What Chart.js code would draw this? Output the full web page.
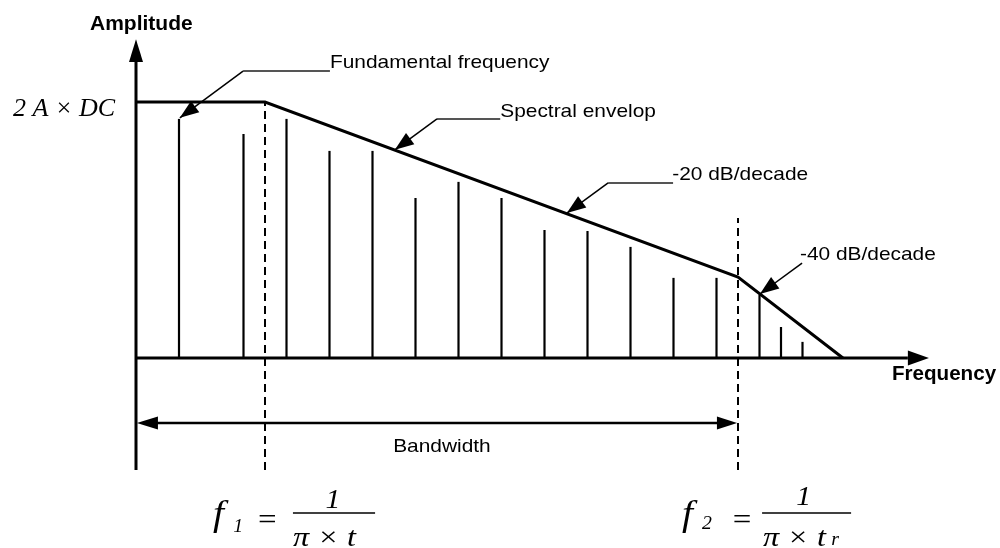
<!DOCTYPE html>
<html><head><meta charset="utf-8">
<script src="https://cdn.jsdelivr.net/npm/chart.js@4"></script>
<style>html,body{margin:0;padding:0;background:#fff}#wrap{width:1000px;height:548px;position:relative}</style>
</head><body><div id="wrap"><canvas id="c"></canvas></div>
<script>
// ---- data (arbitrary frequency / amplitude units) ----
const harmonicFreqs = [1.0, 2.5, 3.5, 4.5, 5.5, 6.5, 7.5, 8.5, 9.5, 10.5, 11.5, 12.5, 13.5, 14.5, 15.0, 15.5];
const harmonicAmps  = [9.34, 8.75, 9.34, 8.09, 8.09, 6.25, 6.88, 6.25, 5.0, 4.96, 4.34, 3.13, 3.13, 2.46, 1.21, 0.63];
const envelopeFreqs = [0, 3.0, 14.0, 16.44];
const envelopeAmps  = [10, 10, 3.16, 0];
const f1 = 3.0;
const f2 = 14.0;
const textLabels = ['Amplitude', 'Frequency', '2 A × DC', 'Fundamental frequency', 'Spectral envelop', '-20 dB/decade', '-40 dB/decade', 'Bandwidth'];

// ---- layout (data units) ----
const axisX = {from: 0, to: 17.95, tip: 18.44};
const axisY = {from: -4.375, to: 11.56, tip: 12.45};
const bandY = -2.54;
const dash1Top = 10, dash2Top = 5.47, dashBottom = -4.375;

const SANS = '"Liberation Sans", Arial, sans-serif';
const SERIF = '"Liberation Serif", "Times New Roman", serif';

const leaders = [
  {h: [2.49, 4.51, 11.21], from: [2.49, 11.21], tip: [1.02, 9.38]},
  {h: [7.0, 8.47, 9.34], from: [7.0, 9.34], tip: [6.02, 8.13]},
  {h: [10.98, 12.49, 6.84], from: [10.98, 6.84], tip: [10.02, 5.66]},
  {h: null, from: [15.49, 3.71], tip: [14.51, 2.5]}
];

const texts = [
  {t: textLabels[0], x: -1.07, y: 12.81, font: 'bold 20px ' + SANS, sx: 1.05},
  {t: textLabels[1], x: 17.58, y: -0.86, font: 'bold 20px ' + SANS, sx: 1.03},
  {t: textLabels[2], x: -2.86, y: 9.45, font: 'italic 26px ' + SERIF, sx: 1},
  {t: textLabels[3], x: 4.51, y: 11.33, font: '19px ' + SANS, sx: 1.1},
  {t: textLabels[4], x: 8.47, y: 9.41, font: '19px ' + SANS, sx: 1.1},
  {t: textLabels[5], x: 12.47, y: 6.95, font: '19px ' + SANS, sx: 1.1},
  {t: textLabels[6], x: 15.44, y: 3.83, font: '19px ' + SANS, sx: 1.1},
  {t: textLabels[7], x: 5.98, y: -3.67, font: '19px ' + SANS, sx: 1.1},
  // f1 formula
  {t: 'f', x: 1.79, y: -6.52, font: 'italic 36px ' + SERIF, sx: 1.1},
  {t: '1', x: 2.26, y: -6.80, font: 'italic 18px ' + SERIF, sx: 1.1},
  {t: '=', x: 2.84, y: -6.68, font: '30px ' + SERIF, sx: 1.1},
  {t: '1', x: 4.58, y: -5.86, font: 'italic 27px ' + SERIF, sx: 1.1, align: 'center'},
  {t: 'π × t', x: 3.65, y: -7.34, font: 'italic 28px ' + SERIF, sx: 1.15},
  // f2 formula
  {t: 'f', x: 12.70, y: -6.52, font: 'italic 36px ' + SERIF, sx: 1.1},
  {t: '2', x: 13.16, y: -6.68, font: 'italic 18px ' + SERIF, sx: 1.1},
  {t: '=', x: 13.88, y: -6.68, font: '30px ' + SERIF, sx: 1.1},
  {t: '1', x: 15.53, y: -5.74, font: 'italic 27px ' + SERIF, sx: 1.1, align: 'center'},
  {t: 'π × t', x: 14.58, y: -7.34, font: 'italic 28px ' + SERIF, sx: 1.15},
  {t: 'r', x: 16.17, y: -7.30, font: 'italic 18px ' + SERIF, sx: 1.1}
];
const fractions = [[3.65, 5.56, -6.05], [14.56, 16.63, -6.05]];

const arrows = [
  {tip: [axisX.tip, 0], base: [axisX.to, 0], hw: 7.5},
  {tip: [0, axisY.tip], base: [0, axisY.to], hw: 7},
  {tip: [0.02, bandY], base: [0.51, bandY], hw: 6.5},
  {tip: [13.98, bandY], base: [13.51, bandY], hw: 6.5}
];

// ---- datasets ----
const line = (pts, extra) => Object.assign({type: 'line', data: pts, showLine: true, pointRadius: 0,
  borderColor: '#000', borderWidth: 2, fill: false, tension: 0, clip: false}, extra || {});

const datasets = [];
harmonicFreqs.forEach((f, i) => datasets.push(line([{x: f, y: 0}, {x: f, y: harmonicAmps[i]}], {borderWidth: 2.2})));
datasets.push(line(envelopeFreqs.map((f, i) => ({x: f, y: envelopeAmps[i]})), {borderWidth: 3}));
datasets.push(line([{x: axisX.from, y: 0}, {x: axisX.to, y: 0}], {borderWidth: 3}));
datasets.push(line([{x: 0, y: axisY.from}, {x: 0, y: axisY.to}], {borderWidth: 3}));
datasets.push(line([{x: f1, y: dashBottom}, {x: f1, y: dash1Top}], {borderWidth: 2, borderDash: [8, 5]}));
datasets.push(line([{x: f2, y: dashBottom}, {x: f2, y: dash2Top}], {borderWidth: 2, borderDash: [8, 5]}));
datasets.push(line([{x: 0.4, y: bandY}, {x: 13.6, y: bandY}], {borderWidth: 2.5}));

const decor = {
  id: 'decor',
  afterDatasetsDraw(chart) {
    const ctx = chart.ctx, xs = chart.scales.x, ys = chart.scales.y;
    const P = (x, y) => [xs.getPixelForValue(x), ys.getPixelForValue(y)];
    ctx.save();
    leaders.forEach(l => {
      if (l.h) {
        const a = P(l.h[0], l.h[2]), b = P(l.h[1], l.h[2]);
        ctx.strokeStyle = '#555'; ctx.lineWidth = 2;
        ctx.beginPath(); ctx.moveTo(a[0], a[1]); ctx.lineTo(b[0], b[1]); ctx.stroke();
      }
      const s = P(l.from[0], l.from[1]), t = P(l.tip[0], l.tip[1]);
      ctx.strokeStyle = '#000'; ctx.lineWidth = 1.5;
      ctx.beginPath(); ctx.moveTo(s[0], s[1]); ctx.lineTo(t[0], t[1]); ctx.stroke();
      const dx = s[0] - t[0], dy = s[1] - t[1], L = Math.hypot(dx, dy);
      const ux = dx / L, uy = dy / L, len = 19, hw = 7;
      const bx = t[0] + ux * len, by = t[1] + uy * len;
      ctx.fillStyle = '#000';
      ctx.beginPath(); ctx.moveTo(t[0], t[1]);
      ctx.lineTo(bx - uy * hw, by + ux * hw); ctx.lineTo(bx + uy * hw, by - ux * hw); ctx.closePath(); ctx.fill();
    });
    arrows.forEach(a => {
      const t = P(a.tip[0], a.tip[1]), b = P(a.base[0], a.base[1]);
      const dx = b[0] - t[0], dy = b[1] - t[1], L = Math.hypot(dx, dy), ux = dx / L, uy = dy / L;
      ctx.fillStyle = '#000';
      ctx.beginPath(); ctx.moveTo(t[0], t[1]);
      ctx.lineTo(b[0] - uy * a.hw, b[1] + ux * a.hw); ctx.lineTo(b[0] + uy * a.hw, b[1] - ux * a.hw); ctx.closePath(); ctx.fill();
    });
    fractions.forEach(f => {
      const a = P(f[0], f[2]), b = P(f[1], f[2]);
      ctx.strokeStyle = '#000'; ctx.lineWidth = 1.5;
      ctx.beginPath(); ctx.moveTo(a[0], a[1]); ctx.lineTo(b[0], b[1]); ctx.stroke();
    });
    ctx.fillStyle = '#000'; ctx.textBaseline = 'alphabetic';
    texts.forEach(o => {
      const p = P(o.x, o.y);
      ctx.save(); ctx.translate(p[0], p[1]); ctx.scale(o.sx || 1, 1);
      ctx.font = o.font; ctx.textAlign = o.align || 'left';
      ctx.fillText(o.t, 0, 0); ctx.restore();
    });
    ctx.restore();
  }
};

new Chart(document.getElementById('c'), {
  type: 'scatter',
  data: {datasets},
  options: {
    responsive: true, maintainAspectRatio: false, animation: false, events: [],
    layout: {padding: {left: 7, right: 4, top: 12.4, bottom: 10.8}},
    plugins: {legend: {display: false}, tooltip: {enabled: false}},
    scales: {
      x: {type: 'linear', min: -3, max: 20, display: false},
      y: {type: 'linear', min: -7, max: 13.5, display: false}
    }
  },
  plugins: [decor]
});
</script></body></html>
